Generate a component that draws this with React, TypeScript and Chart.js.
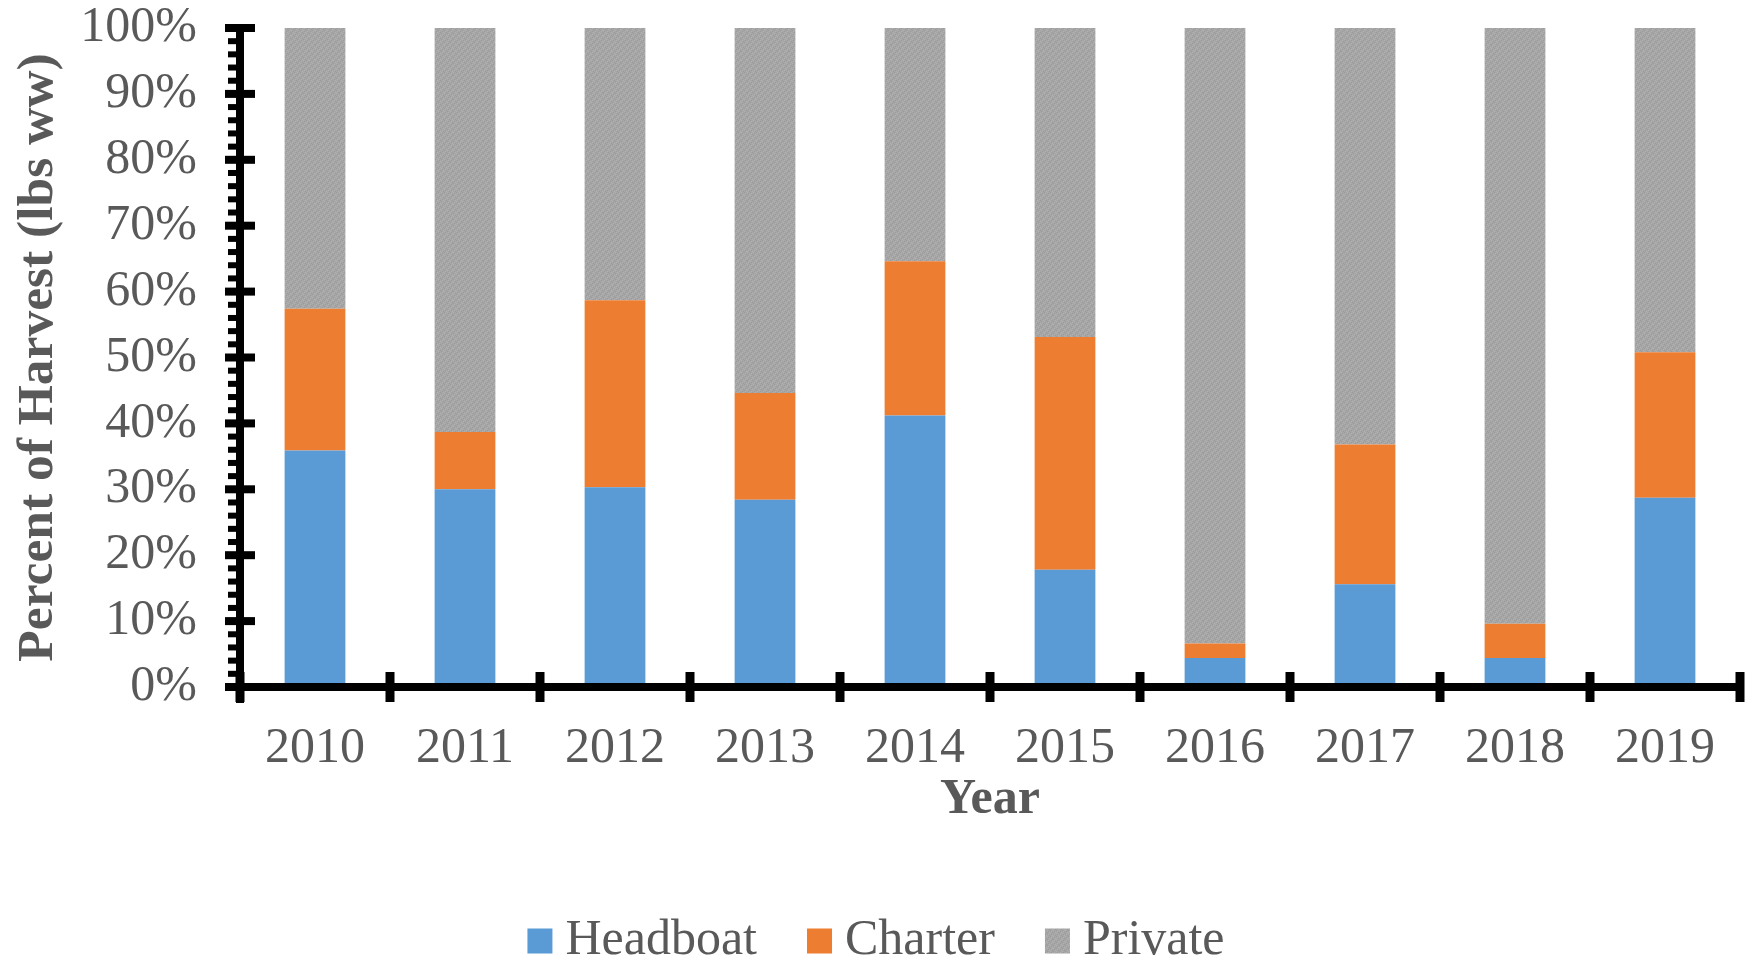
import React, { useEffect, useRef } from 'react';
import { Chart, registerables } from 'chart.js';

Chart.register(...registerables);

const years = ['2010', '2011', '2012', '2013', '2014', '2015', '2016', '2017', '2018', '2019'];
const headboat = [35.9, 30.0, 30.3, 28.4, 41.2, 17.8, 4.4, 15.6, 4.4, 28.7];
const charter = [21.5, 8.7, 28.4, 16.2, 23.4, 35.3, 2.2, 21.2, 5.2, 22.1];
const privateShare = [42.6, 61.3, 41.3, 55.4, 35.4, 46.9, 93.4, 63.2, 90.4, 49.2];
const seriesNames = ['Headboat', 'Charter', 'Private'];

const FONT = "'Liberation Serif', 'Times New Roman', serif";
const TEXT = '#595959';

function makeGreyPattern(): CanvasPattern | string {
  const c = document.createElement('canvas');
  c.width = 6;
  c.height = 6;
  const g = c.getContext('2d');
  if (!g) return '#A6A6A6';
  g.fillStyle = '#A6A6A6';
  g.fillRect(0, 0, 6, 6);
  const dark = '#9B9B9B';
  const light = '#B1B1B1';
  const cells: [number, number, string][] = [
    [0, 0, dark], [3, 0, light], [1, 1, light], [4, 1, dark],
    [2, 2, dark], [5, 2, light], [0, 3, light], [3, 3, dark],
    [4, 4, light], [1, 4, dark], [5, 5, dark], [2, 5, light],
  ];
  cells.forEach(([x, y, col]) => { g.fillStyle = col; g.fillRect(x, y, 1, 1); });
  const p = g.createPattern(c, 'repeat');
  return p || '#A6A6A6';
}

const axesPlugin = {
  id: 'excelAxes',
  afterDatasetsDraw(chart: any) {
    const { ctx, chartArea, scales } = chart;
    const x = scales.x;
    const y = scales.y;
    const left = chartArea.left;
    const bottom = y.getPixelForValue(0);
    const top = y.getPixelForValue(100);
    ctx.save();
    ctx.fillStyle = '#000';
    // vertical axis line
    ctx.fillRect(left - 4, top - 4, 8, bottom + 16 - (top - 4));
    // minor ticks (left side)
    for (let v = 0; v <= 100; v += 2) {
      if (v % 10 === 0) continue;
      const py = y.getPixelForValue(v);
      ctx.fillRect(left - 12, py - 3, 12, 6);
    }
    // major ticks (crossing)
    for (let v = 0; v <= 100; v += 10) {
      const py = y.getPixelForValue(v);
      ctx.fillRect(left - 15, py - 4, 30, 8);
    }
    // horizontal axis line
    const step = x.getPixelForValue(1) - x.getPixelForValue(0);
    const rightEdge = x.getPixelForValue(years.length - 1) + step / 2;
    ctx.fillRect(left, bottom - 4, rightEdge - left + 4, 8);
    // category boundary ticks
    for (let i = 0; i <= years.length; i++) {
      const px = x.getPixelForValue(0) - step / 2 + i * step;
      ctx.fillRect(px - 4.5, bottom - 15, 9, 30);
    }
    ctx.restore();
  },
};

const legendPlugin = {
  id: 'customLegend',
  afterDraw(chart: any) {
    const { ctx, width } = chart;
    const ds = chart.data.datasets;
    ctx.save();
    ctx.font = `50px ${FONT}`;
    ctx.textBaseline = 'middle';
    ctx.textAlign = 'left';
    const box = 25;
    const gap = 13;
    const itemGap = 50;
    const widths = ds.map((d: any) => ctx.measureText(d.label).width);
    const total = widths.reduce((a: number, b: number) => a + b, 0) + ds.length * (box + gap) + (ds.length - 1) * itemGap;
    let cx = width / 2 - total / 2;
    const cy = 941;
    ds.forEach((d: any, i: number) => {
      ctx.fillStyle = d.backgroundColor;
      ctx.fillRect(cx, cy - box / 2, box, box);
      ctx.fillStyle = TEXT;
      ctx.fillText(d.label, cx + box + gap, cy);
      cx += box + gap + widths[i] + itemGap;
    });
    ctx.restore();
  },
};

export default function App() {
  const ref = useRef<HTMLCanvasElement | null>(null);
  useEffect(() => {
    if (!ref.current) return;
    const grey = makeGreyPattern();
    const chart = new Chart(ref.current, {
      type: 'bar',
      data: {
        labels: years,
        datasets: [
          { label: seriesNames[0], data: headboat, backgroundColor: '#5B9BD5', categoryPercentage: 1, barPercentage: 0.405 },
          { label: seriesNames[1], data: charter, backgroundColor: '#ED7D31', categoryPercentage: 1, barPercentage: 0.405 },
          { label: seriesNames[2], data: privateShare, backgroundColor: grey as any, categoryPercentage: 1, barPercentage: 0.405 },
        ],
      },
      options: {
        responsive: false,
        animation: false,
        devicePixelRatio: 1,
        layout: { padding: { left: 0, top: 28, right: 12, bottom: 0 } },
        plugins: {
          legend: { display: false },
          tooltip: { enabled: false },
        },
        scales: {
          x: {
            stacked: true,
            grid: { display: false, drawTicks: false },
            border: { display: false },
            ticks: { color: TEXT, font: { family: FONT, size: 50 }, padding: 32, maxRotation: 0, autoSkip: false },
            title: { display: true, text: 'Year', color: TEXT, font: { family: FONT, size: 50, weight: 'bold' }, padding: { top: 0, bottom: 132 } },
            afterFit: (s: any) => { s.height = 275; s.paddingLeft = 0; s.paddingRight = 0; },
          },
          y: {
            stacked: true,
            min: 0,
            max: 100,
            grid: { display: false, drawTicks: false },
            border: { display: false },
            ticks: { stepSize: 10, autoSkip: false, color: TEXT, font: { family: FONT, size: 50 }, padding: 43, callback: (v: any) => `${v}%` },
            title: { display: true, text: 'Percent of Harvest (lbs ww)', color: TEXT, font: { family: FONT, size: 51.5, weight: 'bold' }, padding: { top: 8, bottom: 0 } },
            afterFit: (s: any) => { s.width = 240; s.paddingTop = 0; s.paddingBottom = 0; },
          },
        },
      } as any,
      plugins: [axesPlugin, legendPlugin],
    });
    return () => chart.destroy();
  }, []);
  return (
    <div style={{ position: 'fixed', left: 0, top: 0, width: 1752, height: 962, background: '#fff' }}>
      <canvas ref={ref} width={1752} height={962} style={{ width: 1752, height: 962, display: 'block' }} />
    </div>
  );
}
